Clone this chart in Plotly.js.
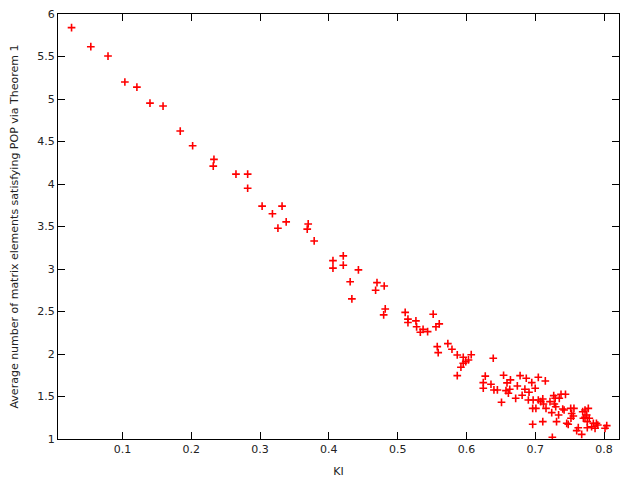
<!DOCTYPE html>
<html>
<head>
<meta charset="utf-8">
<script src="https://cdn.plot.ly/plotly-3.0.1.min.js"></script>
<style>html,body{margin:0;padding:0;background:#fff}#chart{width:640px;height:480px}</style>
</head>
<body>
<div id="chart"></div>
<script>
const kiValues = [
  0.026,0.054,0.079,0.1035,0.121,0.140,0.159,0.184,0.202,0.233,0.232,0.265,0.282,0.282,0.303,0.332,0.318,0.338,0.326,0.370,
  0.3686,0.3787,0.406,0.406,0.421,0.421,0.443,0.431,0.4335,0.470,0.468,0.4805,0.482,0.4797,0.511,0.515,0.515,0.5266,0.5276,0.533,
  0.537,0.5436,0.5517,0.5557,0.5605,0.5576,0.559,0.573,0.579,0.5867,0.5867,0.5954,0.607,0.603,0.599,0.5954,0.592,
  0.639,0.6274,0.6245,0.6245,0.6357,0.640,0.645,0.651,0.654,0.6575,0.659,0.664,0.663,0.661,0.6716,0.674,0.678,0.681,0.685,
  0.687,0.690,0.695,0.697,0.700,0.691,0.6963,0.6963,0.701,0.7045,0.7045,0.708,0.711,0.712,0.711,0.7147,0.7157,0.7215,0.724,
  0.7249,0.7269,0.7278,0.7298,0.729,0.731,0.734,0.735,0.7375,0.740,0.742,0.744,0.7458,0.748,0.7516,0.753,0.752,0.7554,0.7563,
  0.7603,0.7626,0.7676,0.769,0.770,0.7724,0.7724,0.7749,0.7757,0.7757,0.7772,0.7786,0.782,0.7845,0.787,0.789,0.791,0.8015,0.804
];
const avgElements = [
  5.84,5.615,5.505,5.20,5.14,4.952,4.917,4.623,4.45,4.29,4.21,4.116,4.116,3.95,3.74,3.74,3.65,3.555,3.48,3.53,
  3.469,3.33,3.099,3.01,3.155,3.045,2.99,2.85,2.648,2.84,2.75,2.80,2.53,2.46,2.49,2.41,2.37,2.39,2.32,2.256,
  2.29,2.263,2.468,2.32,2.354,2.087,2.016,2.122,2.056,1.989,1.745,1.962,1.992,1.93,1.91,1.891,1.844,
  1.95,1.74,1.663,1.597,1.644,1.577,1.577,1.432,1.75,1.569,1.66,1.695,1.585,1.538,1.479,1.624,1.745,1.515,1.586,
  1.715,1.459,1.663,1.459,1.597,1.55,1.36,1.173,1.36,1.726,1.459,1.44,1.471,1.412,1.204,1.683,1.36,1.44,1.31,
  1.02,1.51,1.412,1.38,1.479,1.204,1.283,1.479,1.526,1.353,1.341,1.526,1.185,1.173,1.36,1.30,1.244,1.27,1.36,
  1.098,1.133,1.055,1.321,1.244,1.256,1.341,1.283,1.204,1.133,1.36,1.244,1.145,1.185,1.126,1.185,1.165,1.126,1.157
];
const xTicks = [0.1,0.2,0.3,0.4,0.5,0.6,0.7,0.8];
const yTicks = [1,1.5,2,2.5,3,3.5,4,4.5,5,5.5,6];

const font = {family: 'DejaVu Sans, Verdana, sans-serif', size: 11, color: '#222'};
const axisCommon = {
  showline: true, linecolor: '#000', linewidth: 1, mirror: 'allticks',
  ticks: 'inside', ticklen: 7, tickwidth: 1, tickcolor: '#000',
  showgrid: false, zeroline: false, tickfont: font
};

Plotly.newPlot('chart', [{
  x: kiValues, y: avgElements, type: 'scatter', mode: 'markers',
  marker: {symbol: 'cross-thin', size: 5.5, color: 'red', line: {color: 'red', width: 1.6}},
  hoverinfo: 'none'
}], {
  width: 640, height: 480,
  margin: {l: 58, r: 21, t: 14, b: 41},
  paper_bgcolor: '#fff', plot_bgcolor: '#fff',
  showlegend: false,
  xaxis: Object.assign({}, axisCommon, {
    range: [0.0063, 0.8218], tickvals: xTicks, ticktext: xTicks.map(String),
    title: {text: 'KI', font: font, standoff: 12}
  }),
  yaxis: Object.assign({}, axisCommon, {
    range: [1, 6], tickvals: yTicks, ticktext: yTicks.map(String),
    title: {text: 'Average number of matrix elements satisfying POP via Theorem 1', font: font, standoff: 16}
  })
}, {staticPlot: true});
</script>
</body>
</html>
